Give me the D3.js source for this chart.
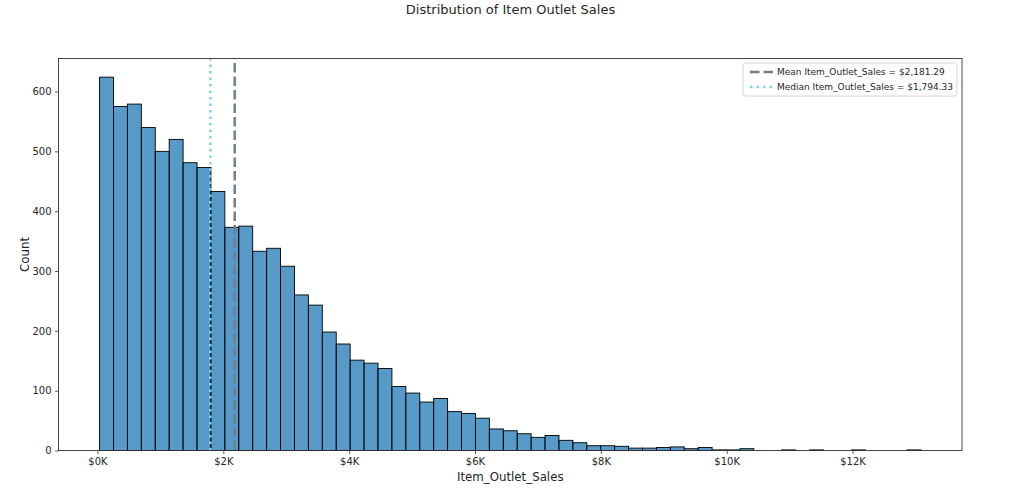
<!DOCTYPE html>
<html>
<head>
<meta charset="utf-8">
<script src="https://cdn.jsdelivr.net/npm/d3@7"></script>
<style>
  body { margin: 0; background: #fff; }
  text { font-family: "DejaVu Sans", sans-serif; fill: #262626; }
</style>
</head>
<body>
<svg width="1021" height="495"></svg>
<script>
// histogram of Item_Outlet_Sales, 59 equal bins between the min and max sale
const salesMin = 33.29;
const salesMax = 13086.97;
const binCounts = [
  624, 575, 579, 540, 500, 520, 481, 473, 433, 373,
  375, 333, 338, 308, 260, 243, 198, 178, 151, 146,
  137, 107, 96, 81, 87, 65, 62, 54, 36, 33,
  28, 22, 25, 17, 13, 8, 8, 7, 4, 4,
  5, 6, 3, 5, 1, 1, 3, 0, 0, 1,
  0, 1, 0, 0, 1, 0, 0, 0, 1
];
const meanSales = 2181.29;
const medianSales = 1794.33;
const xTicks = [0, 2000, 4000, 6000, 8000, 10000, 12000];
const yTicks = [0, 100, 200, 300, 400, 500, 600];

var svg = d3.select("svg"),
    margin = {left: 58.5, right: 1021 - 962, top: 58.5, bottom: 495 - 450.5},
    width = 1021 - margin.left - margin.right,
    height = 495 - margin.top - margin.bottom;

const binWidth = (salesMax - salesMin) / binCounts.length;
const bins = binCounts.map((c, i) => ({
  x0: salesMin + i * binWidth,
  x1: salesMin + (i + 1) * binWidth,
  count: c
}));

const pad = (salesMax - salesMin) * 0.05;
const x = d3.scaleLinear()
    .domain([salesMin - pad, salesMax + pad])
    .range([margin.left, margin.left + width]);
const y = d3.scaleLinear()
    .domain([0, d3.max(binCounts) * 1.05])
    .range([margin.top + height, margin.top]);

svg.append("text")
  .attr("x", 510.5)
  .attr("y", 14)
  .attr("text-anchor", "middle")
  .style("font-size", "13px")
  .text("Distribution of Item Outlet Sales");

// bars
svg.append("g")
  .selectAll("rect")
  .data(bins.filter(d => d.count > 0))
  .join("rect")
    .attr("x", d => x(d.x0))
    .attr("y", d => y(d.count))
    .attr("width", d => x(d.x1) - x(d.x0))
    .attr("height", d => y(0) - y(d.count))
    .attr("fill", "#1f77b4")
    .attr("fill-opacity", 0.75)
    .attr("stroke", "#000")
    .attr("stroke-width", 0.9);

// reference lines
svg.append("line")
  .attr("x1", x(medianSales)).attr("x2", x(medianSales))
  .attr("y1", y.range()[0]).attr("y2", y.range()[1])
  .attr("stroke", "#87ceeb")
  .attr("stroke-width", 2.5)
  .attr("stroke-dasharray", "2.5,4");

svg.append("line")
  .attr("x1", x(meanSales)).attr("x2", x(meanSales))
  .attr("y1", y.range()[0]).attr("y2", y.range()[1])
  .attr("stroke", "#708090")
  .attr("stroke-width", 2.5)
  .attr("stroke-dasharray", "9.5,4");

// axes
const xAxis = svg.append("g")
  .attr("transform", "translate(0," + y.range()[0] + ")")
  .call(d3.axisBottom(x).tickValues(xTicks).tickSize(3.5).tickPadding(3.5)
    .tickFormat(d => "$" + (d / 1000) + "K"));
const yAxis = svg.append("g")
  .attr("transform", "translate(" + margin.left + ",0)")
  .call(d3.axisLeft(y).tickValues(yTicks).tickSize(3.5).tickPadding(3.5));

[xAxis, yAxis].forEach(g => {
  g.select(".domain").remove();
  g.selectAll("line").attr("stroke", "#333").attr("stroke-width", 0.8);
  g.selectAll("text").style("font-size", "10px").attr("fill", "#262626");
});

// frame
svg.append("rect")
  .attr("x", margin.left).attr("y", margin.top)
  .attr("width", width).attr("height", height)
  .attr("fill", "none")
  .attr("stroke", "#333")
  .attr("stroke-width", 0.9);

svg.append("text")
  .attr("x", margin.left + width / 2)
  .attr("y", 480.5)
  .attr("text-anchor", "middle")
  .style("font-size", "11.8px")
  .text("Item_Outlet_Sales");

svg.append("text")
  .attr("transform", "translate(28.5," + (margin.top + height / 2) + ") rotate(-90)")
  .attr("text-anchor", "middle")
  .style("font-size", "11.8px")
  .text("Count");

// legend
const legendItems = [
  {label: "Mean Item_Outlet_Sales = $" + d3.format(",.2f")(meanSales), color: "#708090", dash: "9.5,4"},
  {label: "Median Item_Outlet_Sales = $" + d3.format(",.2f")(medianSales), color: "#87ceeb", dash: "2.5,4"}
];
const legend = svg.append("g").attr("transform", "translate(743,63)");
legend.append("rect")
  .attr("width", 214).attr("height", 33)
  .attr("rx", 2.5)
  .attr("fill", "#fff").attr("fill-opacity", 0.8)
  .attr("stroke", "#ccc").attr("stroke-width", 0.8);
const row = legend.selectAll("g.row")
  .data(legendItems)
  .join("g")
    .attr("class", "row")
    .attr("transform", (d, i) => "translate(0," + (9 + i * 15) + ")");
row.append("line")
  .attr("x1", 7).attr("x2", 30)
  .attr("stroke", d => d.color)
  .attr("stroke-width", 2.5)
  .attr("stroke-dasharray", d => d.dash);
row.append("text")
  .attr("x", 34)
  .attr("dy", "0.35em")
  .style("font-size", "9px")
  .text(d => d.label);
</script>
</body>
</html>
